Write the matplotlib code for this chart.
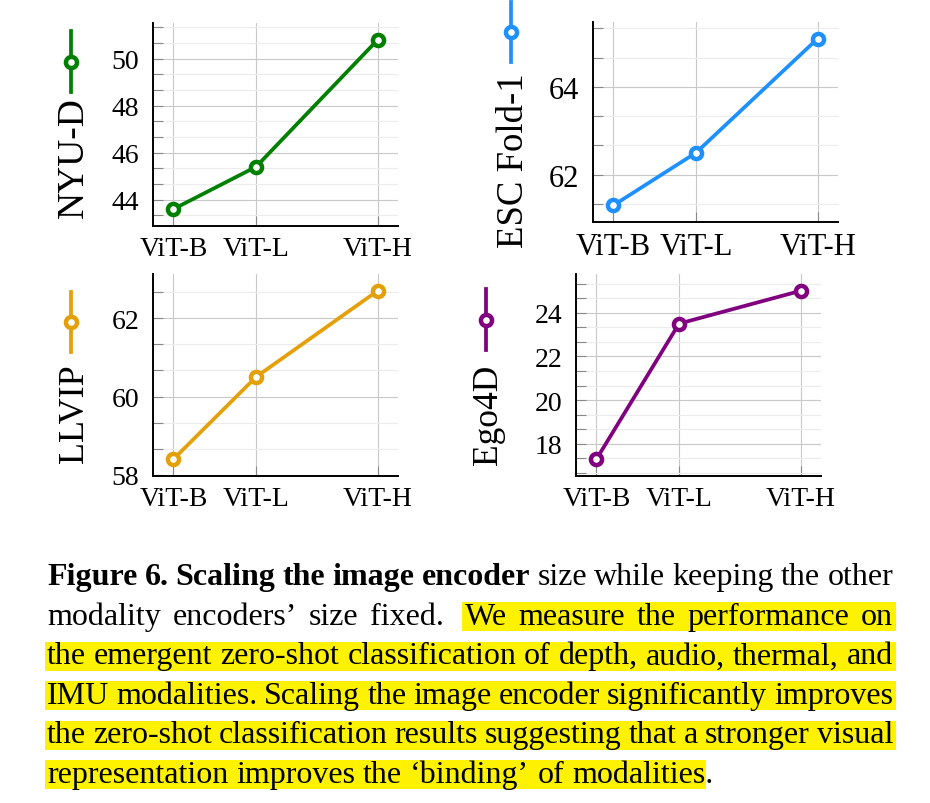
import matplotlib
matplotlib.use("Agg")
import matplotlib.pyplot as plt
from matplotlib.ticker import MultipleLocator, AutoMinorLocator
from matplotlib.patches import Rectangle
from matplotlib.lines import Line2D

plt.rcParams["font.family"] = ["Liberation Serif", "DejaVu Serif"]

# x axis: encoder size, ticks placed at parameter count (millions)
encoder_names = ["ViT-B", "ViT-L", "ViT-H"]
encoder_params = [86, 307, 632]

# zero-shot results per modality
nyu_d = [43.6, 45.4, 50.8]
esc_fold1 = [61.3, 62.5, 65.1]
llvip = [58.4, 60.5, 62.7]
ego4d = [17.3, 23.5, 25.0]

caption_lines = [
    "Figure 6. Scaling the image encoder size while keeping the other",
    "modality encoders’ size fixed.  We measure the performance on",
    "the emergent zero-shot classification of depth, audio, thermal, and",
    "IMU modalities. Scaling the image encoder significantly improves",
    "the zero-shot classification results suggesting that a stronger visual",
    "representation improves the ‘binding’ of modalities.",
]
N_BOLD_WORDS = 6

W, H = 930, 804


def fx(x):
    return x / W


def fy(y):
    return 1 - y / H


# box = (left, top, right, bottom) in pixels
panels = [
    dict(values=nyu_d, label="NYU-D", color="#008000", box=(153, 24, 398, 227),
         tick_size=20, label_size=27, text_xy=(83, 157.5), icon=(71, 32, 93)),
    dict(values=esc_fold1, label="ESC Fold-1", color="#1e90ff", box=(593, 23, 838, 223),
         tick_size=22, label_size=26.5, text_xy=(523, 161), icon=(511, 3, 63)),
    dict(values=llvip, label="LLVIP", color="#e3a008", box=(153, 275, 398, 477),
         tick_size=20, label_size=26, text_xy=(83, 414), icon=(71, 293, 353)),
    dict(values=ego4d, label="Ego4D", color="#800080", box=(576, 275, 821, 477),
         tick_size=20, label_size=25.5, text_xy=(497, 415), icon=(486, 290, 351)),
]

LW = 2.7
MS = 8
MEW = 3.2

fig = plt.figure(figsize=(W / 100, H / 100), dpi=100)

for p in panels:
    l, t, r, b = p["box"]
    ax = fig.add_axes([fx(l), fy(b), (r - l) / W, (b - t) / H])
    ax.plot(encoder_params, p["values"], color=p["color"], lw=LW, marker="o",
            ms=MS, mew=MEW, mfc="white", mec=p["color"], zorder=3)
    ax.margins(0.1)
    ax.set_xticks(encoder_params)
    ax.set_xticklabels(encoder_names)
    ax.yaxis.set_major_locator(MultipleLocator(2))
    ax.yaxis.set_minor_locator(AutoMinorLocator(3))
    ax.grid(which="major", color="#c8c8c8", lw=0.8)
    ax.grid(which="minor", axis="y", color="#ececec", lw=0.8)
    ax.set_axisbelow(True)
    for s in ("top", "right"):
        ax.spines[s].set_visible(False)
    for s in ("left", "bottom"):
        ax.spines[s].set_linewidth(1.4)
    ax.tick_params(which="both", direction="in", color="#888888", length=7,
                   width=0.8, labelsize=p["tick_size"])
    ax.tick_params(axis="y", pad=10)
    ax.tick_params(axis="x", pad=7)

    # y label with the legend entry stacked above it
    tx, ty = p["text_xy"]
    fig.text(fx(tx), fy(ty), p["label"], rotation=90, rotation_mode="anchor",
             ha="center", va="baseline", fontsize=p["label_size"])
    ix, iy0, iy1 = p["icon"]
    fig.add_artist(Line2D([fx(ix), fx(ix)], [fy(iy0), fy(iy1)], color=p["color"],
                          lw=LW, transform=fig.transFigure))
    fig.add_artist(Line2D([fx(ix)], [fy((iy0 + iy1) / 2)], color=p["color"],
                          marker="o", ms=MS, mew=MEW, mfc="white",
                          transform=fig.transFigure))

# caption, justified by hand
fs = 23
left, right = 47, 893
baselines = [585, 625, 664.5, 704, 743.5, 783]
fig.canvas.draw()
renderer = fig.canvas.get_renderer()
space = 0.25 * fs * 100 / 72
for i, line in enumerate(caption_lines):
    words = line.split(" ")
    items = []
    gap_weights = []
    weight = 1
    k = 0
    for w in words:
        if w == "":
            weight = 1.8
            continue
        bold = (i == 0 and k < N_BOLD_WORDS)
        txt = fig.text(0, fy(baselines[i]), w, fontsize=fs, va="baseline",
                       ha="left", fontweight="bold" if bold else "normal", zorder=5)
        wpx = txt.get_window_extent(renderer).width
        items.append((txt, wpx, w))
        if k > 0:
            gap_weights.append(weight)
        weight = 1
        k += 1
    total = sum(it[1] for it in items)
    if i < len(caption_lines) - 1:
        unit = (right - left - total) / sum(gap_weights)
    else:
        unit = space
    x = left
    positions = []
    for j, (txt, wpx, w) in enumerate(items):
        txt.set_x(fx(x))
        positions.append((x, x + wpx, w))
        if j < len(gap_weights):
            x += wpx + unit * gap_weights[j]
    # highlight
    if i == 1:
        hx0 = [pp[0] for pp in positions if pp[2] == "We"][0] - 3
        hx1 = right + 3
    elif i == len(caption_lines) - 1:
        hx0 = left - 2
        hx1 = positions[-1][1] - 7
    elif i > 1:
        hx0, hx1 = left - 2, right + 3
    else:
        continue
    yb = baselines[i]
    fig.add_artist(Rectangle((fx(hx0), fy(yb + 7)), (hx1 - hx0) / W, 29 / H,
                             transform=fig.transFigure, facecolor="#fff200",
                             edgecolor="none", zorder=1))

fig.savefig("out.png", dpi=100)
